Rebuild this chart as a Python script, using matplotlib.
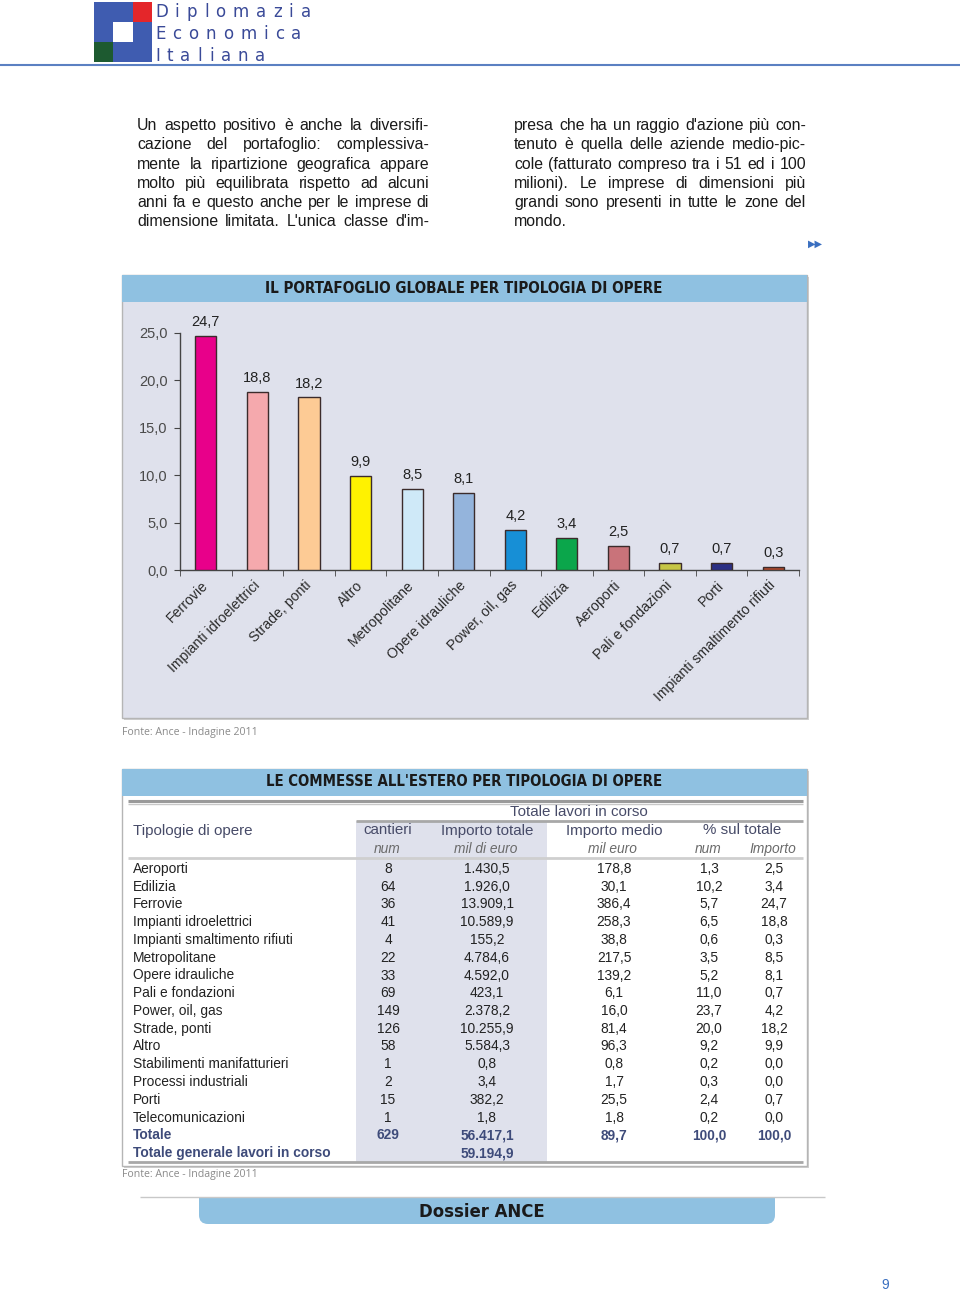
import matplotlib
matplotlib.use('Agg')
import matplotlib.pyplot as plt
from matplotlib.patches import Rectangle, FancyBboxPatch
from matplotlib import font_manager as fm
import numpy as np
import os

# ---------------- data ----------------
categories = ['Ferrovie', 'Impianti idroelettrici', 'Strade, ponti', 'Altro',
              'Metropolitane', 'Opere idrauliche', 'Power, oil, gas', 'Edilizia',
              'Aeroporti', 'Pali e fondazioni', 'Porti', 'Impianti smaltimento rifiuti']
values = [24.7, 18.8, 18.2, 9.9, 8.5, 8.1, 4.2, 3.4, 2.5, 0.7, 0.7, 0.3]
bar_colors = ['#e8008a', '#f5a9ad', '#fdcb95', '#fff200', '#cfe9f8', '#94b4dc',
              '#178fd6', '#0ba64b', '#c9737a', '#c6c645', '#2b2f84', '#b04a2c']
y_ticks = [0, 5, 10, 15, 20, 25]

tipologie = ['Aeroporti', 'Edilizia', 'Ferrovie', 'Impianti idroelettrici',
             'Impianti smaltimento rifiuti', 'Metropolitane', 'Opere idrauliche',
             'Pali e fondazioni', 'Power, oil, gas', 'Strade, ponti', 'Altro',
             'Stabilimenti manifatturieri', 'Processi industriali', 'Porti',
             'Telecomunicazioni']
cantieri = [8, 64, 36, 41, 4, 22, 33, 69, 149, 126, 58, 1, 2, 15, 1]
importo_totale = [1430.5, 1926.0, 13909.1, 10589.9, 155.2, 4784.6, 4592.0, 423.1,
                  2378.2, 10255.9, 5584.3, 0.8, 3.4, 382.2, 1.8]
importo_medio = [178.8, 30.1, 386.4, 258.3, 38.8, 217.5, 139.2, 6.1, 16.0, 81.4,
                 96.3, 0.8, 1.7, 25.5, 1.8]
pct_num = [1.3, 10.2, 5.7, 6.5, 0.6, 3.5, 5.2, 11.0, 23.7, 20.0, 9.2, 0.2, 0.3, 2.4, 0.2]
pct_importo = [2.5, 3.4, 24.7, 18.8, 0.3, 8.5, 8.1, 0.7, 4.2, 18.2, 9.9, 0.0, 0.0, 0.7, 0.0]
totale = ['Totale', 629, 56417.1, 89.7, 100.0, 100.0]
totale_generale = ['Totale generale lavori in corso', 59194.9]

left_par = ["Un aspetto positivo è anche la diversifi-",
            "cazione del portafoglio: complessiva-",
            "mente la ripartizione geografica appare",
            "molto più equilibrata rispetto ad alcuni",
            "anni fa e questo anche per le imprese di",
            "dimensione limitata. L'unica classe d'im-"]
right_par = ["presa che ha un raggio d'azione più con-",
             "tenuto è quella delle aziende medio-pic-",
             "cole (fatturato compreso tra i 51 ed i 100",
             "milioni). Le imprese di dimensioni più",
             "grandi sono presenti in tutte le zone del",
             "mondo."]


def it_fmt(v, dec=1):
    s = f"{v:,.{dec}f}"
    return s.replace(',', '#').replace('.', ',').replace('#', '.')


# ---------------- fonts ----------------
names = {f.name for f in fm.fontManager.ttflist}
SANS = 'Liberation Sans' if 'Liberation Sans' in names else 'DejaVu Sans'
HUM = 'Open Sans' if 'Open Sans' in names else SANS


def find_condensed_bold():
    files = fm.findSystemFonts()
    prefs = ['LiberationSansNarrow-Bold.', 'DejaVuSansCondensed-Bold.',
             'RobotoCondensed-Bold.', 'OpenSans_Condensed-Bold.', 'OpenSans-CondensedBold.',
             'NotoSans-CondensedBold.', 'Roboto_Condensed-Bold.']
    for p in prefs:
        for f in files:
            if os.path.basename(f).startswith(p):
                return fm.FontProperties(fname=f)
    for f in files:
        b = os.path.basename(f).lower()
        if ('condensed' in b or 'narrow' in b) and 'bold' in b and 'oblique' not in b \
                and 'italic' not in b and 'semi' not in b and 'extra' not in b:
            return fm.FontProperties(fname=f)
    return fm.FontProperties(family=SANS, weight='bold')


COND = find_condensed_bold()

W, H = 960, 1295
fig = plt.figure(figsize=(W / 100, H / 100), dpi=100)
fig.patch.set_facecolor('white')
bg = fig.add_axes([0, 0, 1, 1])
bg.set_xlim(0, W)
bg.set_ylim(H, 0)
bg.axis('off')
renderer = fig.canvas.get_renderer()


def fit(t, width):
    w = t.get_window_extent(renderer).width
    t.set_fontsize(t.get_fontsize() * width / w)


def rect(x0, y0, x1, y1, **kw):
    bg.add_patch(Rectangle((x0, y0), x1 - x0, y1 - y0, **kw))


def hline(y, x0, x1, **kw):
    bg.plot([x0, x1], [y, y], solid_capstyle='butt', **kw)


def ctext(x, y, s, size, **kw):
    fp = COND.copy()
    fp.set_size(size)
    return bg.text(x, y, s, fontproperties=fp, **kw)


# ---------------- header ----------------
rect(94, 2, 152, 62, fc='#3f5cb0', ec='none')
rect(133, 2, 152, 22, fc='#e4262a', ec='none')
rect(113, 22, 133, 42, fc='white', ec='none')
rect(94, 42, 113, 62, fc='#1d5a30', ec='none')
for word, base in [('Diplomazia', 17), ('Economica', 39), ('Italiana', 61)]:
    x = 155
    for ch in word:
        t = bg.text(x, base, ch, fontsize=12, family='DejaVu Sans', color='#3a4a98',
                    va='baseline', ha='left')
        x += t.get_window_extent(renderer).width + 7
hline(64.5, 0, W, color='#5b80c2', lw=1.5)


# ---------------- paragraph text ----------------
def justify(lines, x0, x1, base0, dy, last_just):
    for i, line in enumerate(lines):
        words = line.split()
        y = base0 + i * dy
        ts = [bg.text(0, y, w, fontsize=11.4, family=SANS, color='#1a1a1a',
                      va='baseline', ha='left') for w in words]
        ws = [t.get_window_extent(renderer).width for t in ts]
        if (i < len(lines) - 1 or last_just) and len(words) > 1:
            gap = max(2.5, (x1 - x0 - sum(ws)) / (len(words) - 1))
        else:
            gap = 4.4
        x = x0
        for t, w in zip(ts, ws):
            t.set_x(x)
            x += w + gap


justify(left_par, 137, 429, 130, 19.3, True)
justify(right_par, 514, 806, 130, 19.3, False)
bg.text(815, 244, '\u25B6\u25B6', fontsize=7, family='DejaVu Sans', color='#3a6fc0',
        ha='center', va='center')

# ---------------- chart box ----------------
BAND = '#8fc1e1'
PANEL = '#dfe1ec'
rect(124, 277, 809, 720, fc='#d0d0d0', ec='none')
rect(122, 275, 807, 718, fc=PANEL, ec='#b5b5b5', lw=1)
rect(122, 275, 807, 302, fc=BAND, ec='none')
t = ctext(464, 288.5, 'IL PORTAFOGLIO GLOBALE PER TIPOLOGIA DI OPERE', 12.5,
          color='#1a1a1a', ha='center', va='center')
fit(t, 397)
bg.text(122, 733, 'Fonte: Ance - Indagine 2011', family=HUM, fontsize=7.6, color='#8a8a8a',
        ha='left', va='center')

ax = fig.add_axes([180 / W, 1 - 570 / H, 619 / W, 237 / H])
ax.patch.set_alpha(0)
x = np.arange(len(categories))
ax.bar(x, values, width=0.41, color=bar_colors, edgecolor='#3b2b2b', linewidth=1, zorder=3)
for xi, v in zip(x, values):
    ax.annotate(it_fmt(v), (xi, v), xytext=(0, 5), textcoords='offset points',
                ha='center', va='bottom', fontsize=10.5, family=SANS, color='#222222',
                annotation_clip=False)
ax.set_xlim(-0.5, len(categories) - 0.5)
ax.set_ylim(0, 25)
for s in ['top', 'right']:
    ax.spines[s].set_visible(False)
for s in ['left', 'bottom']:
    ax.spines[s].set_color('#444444')
    ax.spines[s].set_linewidth(1)
ax.set_yticks(y_ticks)
ax.set_yticklabels([it_fmt(v) for v in y_ticks], family=SANS, fontsize=10.5, color='#4a4a4a')
ax.tick_params(axis='y', direction='out', length=4, color='#444444', pad=5)
ax.set_xticks(x)
ax.set_xticklabels(categories, rotation=45, ha='right', va='center', rotation_mode='anchor',
                   family=SANS, fontsize=10.2, color='#2a2a2a')
ax.tick_params(axis='x', length=0, pad=9.5)
ax.set_xticks(np.arange(-0.5, len(categories) + 0.5, 1), minor=True)
ax.tick_params(axis='x', which='minor', direction='out', length=4, color='#444444')

# ---------------- table ----------------
rect(124, 771, 809, 1168, fc='#d0d0d0', ec='none')
rect(122, 769, 807, 1166, fc='white', ec='#b5b5b5', lw=1)
rect(122, 769, 807, 796, fc=BAND, ec='none')
t = ctext(464, 781.5, "LE COMMESSE ALL'ESTERO PER TIPOLOGIA DI OPERE", 12.5,
          color='#1a1a1a', ha='center', va='center')
fit(t, 397)
rect(356, 821, 547, 1162, fc=PANEL, ec='none')
hline(800.5, 128, 803, color='#9a9a9a', lw=2.2)
hline(803.5, 128, 803, color='#c8c8c8', lw=1)
hline(821, 356, 803, color='#a8a8a8', lw=2)
hline(858, 128, 803, color='#cfcfcf', lw=2)
hline(1162, 128, 803, color='#a8a8a8', lw=2)

HC = '#474b68'
cols = [388, 487, 614, 709, 774]
fs = 9.9
hfs = 10.9
bg.text(579, 812, 'Totale lavori in corso', family=SANS, fontsize=hfs, color=HC,
        ha='center', va='center')
bg.text(133, 830.5, 'Tipologie di opere', family=SANS, fontsize=hfs, color=HC,
        ha='left', va='center')
for xc, lab in zip([388, 487, 614, 742],
                   ['cantieri', 'Importo totale', 'Importo medio', '% sul totale']):
    bg.text(xc, 830.5, lab, family=SANS, fontsize=hfs, color=HC, ha='center', va='center')
for xc, lab in zip([387, 486, 612, 708, 773],
                   ['num', 'mil di euro', 'mil euro', 'num', 'Importo']):
    bg.text(xc, 849, lab, family=SANS, fontsize=fs, color='#6a6a6a', style='italic',
            ha='center', va='center')

y0, dy = 869, 17.75
for i, name in enumerate(tipologie):
    y = y0 + i * dy
    bg.text(133, y, name, family=SANS, fontsize=fs, color='#222222', ha='left', va='center')
    row = [str(cantieri[i]), it_fmt(importo_totale[i]), it_fmt(importo_medio[i]),
           it_fmt(pct_num[i]), it_fmt(pct_importo[i])]
    for xc, s in zip(cols, row):
        bg.text(xc, y, s, family=SANS, fontsize=fs, color='#222222', ha='center', va='center')

TC = '#3e4b7a'
y = y0 + len(tipologie) * dy
bg.text(133, y, totale[0], family=SANS, fontsize=fs, color=TC, fontweight='bold',
        ha='left', va='center')
row = [str(totale[1]), it_fmt(totale[2]), it_fmt(totale[3]), it_fmt(totale[4]), it_fmt(totale[5])]
for xc, s in zip(cols, row):
    bg.text(xc, y, s, family=SANS, fontsize=fs, color=TC, fontweight='bold',
            ha='center', va='center')
y += dy
bg.text(133, y, totale_generale[0], family=SANS, fontsize=fs, color=TC, fontweight='bold',
        ha='left', va='center')
bg.text(cols[1], y, it_fmt(totale_generale[1]), family=SANS, fontsize=fs, color=TC,
        fontweight='bold', ha='center', va='center')

bg.text(122, 1175, 'Fonte: Ance - Indagine 2011', family=HUM, fontsize=7.6, color='#8a8a8a',
        ha='left', va='center')

# ---------------- footer ----------------
bg.add_patch(FancyBboxPatch((199, 1198), 576, 26, boxstyle='round,pad=0,rounding_size=9',
                            fc=BAND, ec='none'))
rect(199, 1198, 775, 1210, fc=BAND, ec='none')
hline(1197, 140, 825, color='#c8c8c8', lw=1)
t = ctext(482, 1212, 'Dossier ANCE', 15, color='#1a1a1a', ha='center', va='center')
fit(t, 126)
bg.text(885, 1285, '9', family=SANS, fontsize=10, color='#3a6fc0', ha='center', va='center')

fig.savefig('out.png', dpi=100, facecolor='white')
